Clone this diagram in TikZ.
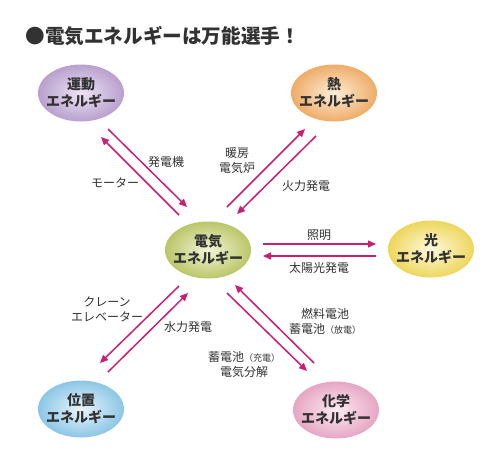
\documentclass[tikz,border=0pt]{standalone}
\usepackage{fontspec}
\setmainfont{Noto Sans CJK JP}
\usetikzlibrary{shapes.geometric,arrows.meta}
\definecolor{arrowpink}{RGB}{204,30,112}
\definecolor{txtgray}{RGB}{50,50,50}
\definecolor{kinin}{RGB}{238,228,244}\definecolor{kinout}{RGB}{184,160,206}
\definecolor{heatin}{RGB}{253,238,216}\definecolor{heatout}{RGB}{238,172,104}
\definecolor{elecin}{RGB}{242,244,214}\definecolor{elecout}{RGB}{186,198,104}
\definecolor{lightin}{RGB}{254,250,222}\definecolor{lightout}{RGB}{238,214,92}
\definecolor{posin}{RGB}{232,245,252}\definecolor{posout}{RGB}{140,198,230}
\definecolor{chemin}{RGB}{252,234,242}\definecolor{chemout}{RGB}{230,166,196}

\begin{document}
\begin{tikzpicture}[x=1pt,y=-1pt,
  energy/.style={ellipse,minimum width=86pt,minimum height=57pt,inner sep=-6pt,
    align=center,text=txtgray,font=\bfseries\fontsize{14}{17}\selectfont},
  conv/.style={draw=arrowpink,line width=1.5pt,-{Triangle[length=8pt,width=7pt]}},
  lbl/.style={align=center,text=txtgray,font=\fontsize{12}{15}\selectfont}]
\useasboundingbox (0,0) rectangle (500,461);

\node[anchor=west,text=txtgray,font=\bfseries\fontsize{19.6}{22}\selectfont] (title) at (22,36) {●電気エネルギーは万能選手！};

\node[energy,inner color=kinin,outer color=kinout] (kinetic) at (81,93) {運動\\エネルギー};
\node[energy,inner color=heatin,outer color=heatout] (heat) at (334,93) {熱\\エネルギー};
\node[energy,inner color=elecin,outer color=elecout] (elec) at (208,250) {電気\\エネルギー};
\node[energy,inner color=lightin,outer color=lightout] (light) at (431,249) {光\\エネルギー};
\node[energy,inner color=posin,outer color=posout] (potential) at (81,409) {位置\\エネルギー};
\node[energy,inner color=chemin,outer color=chemout] (chemical) at (336,410) {化学\\エネルギー};

\coordinate (k1) at (108,129); \coordinate (k2) at (187,207);
\coordinate (k3) at (179,215); \coordinate (k4) at (101,137);
\coordinate (h1) at (227,207); \coordinate (h2) at (305,129);
\coordinate (h3) at (316,136); \coordinate (h4) at (237,214);
\coordinate (l1) at (263,244); \coordinate (l2) at (376,244);
\coordinate (l3) at (376,256); \coordinate (l4) at (263,256);
\coordinate (p1) at (179,286); \coordinate (p2) at (100,363);
\coordinate (p3) at (108,372); \coordinate (p4) at (188,293);
\coordinate (c1) at (227,293); \coordinate (c2) at (307,371);
\coordinate (c3) at (314,363); \coordinate (c4) at (235,285);

\draw[conv] (k1) -- (k2);
\draw[conv] (k3) -- (k4);
\draw[conv] (h1) -- (h2);
\draw[conv] (h3) -- (h4);
\draw[conv] (l1) -- (l2);
\draw[conv] (l3) -- (l4);
\draw[conv] (p1) -- (p2);
\draw[conv] (p3) -- (p4);
\draw[conv] (c1) -- (c2);
\draw[conv] (c3) -- (c4);

\node[lbl] (gen) at (166,162) {発電機};
\node[lbl] (motor) at (115,183) {モーター};
\node[lbl] (heater) at (237,161) {暖房\\電気炉};
\node[lbl] (thermal) at (306,186) {火力発電};
\node[lbl] (lamp) at (319,235) {照明};
\node[lbl] (solar) at (319,268) {太陽光発電};
\node[lbl] (crane) at (107,309) {クレーン\\エレベーター};
\node[lbl] (hydro) at (188,327) {水力発電};
\node[lbl] (fuel) at (325,321) {燃料電池\\蓄電池{\fontsize{9}{15}\selectfont（放電）}};
\node[lbl] (charge) at (244,364) {蓄電池{\fontsize{9}{15}\selectfont（充電）}\\電気分解};
\end{tikzpicture}
\end{document}
